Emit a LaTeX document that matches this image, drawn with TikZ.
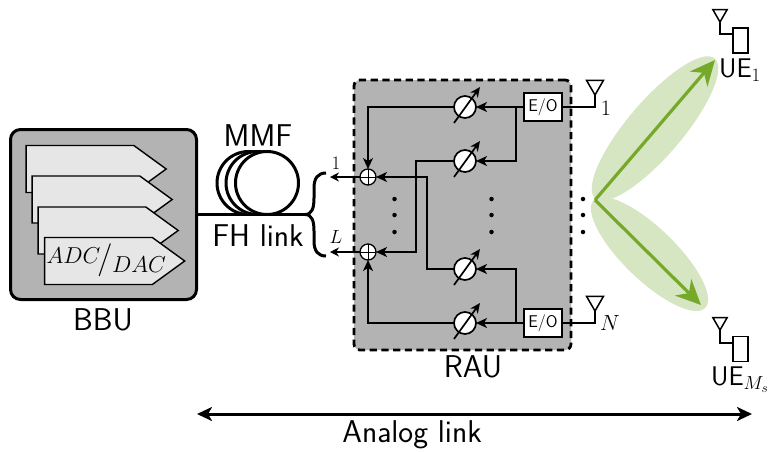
\RequirePackage{fix-cm}
\documentclass[tikz,border=0pt]{standalone}
\usepackage{amsmath}
\usetikzlibrary{positioning,calc}
\usetikzlibrary{arrows.meta}
\usetikzlibrary{shapes.geometric,shapes.symbols}
\definecolor{boxgray}{HTML}{B3B3B3}
\definecolor{sheetgray}{HTML}{E6E6E6}
\definecolor{beamgreen}{HTML}{D6E6C3}
\definecolor{raygreen}{HTML}{76A92A}
\newcommand{\bigsf}{\fontsize{31.5}{31.5}\selectfont\sffamily}
\begin{document}
\begin{tikzpicture}[x=1pt,y=-1pt,
                every node/.style={inner sep=0pt, outer sep=0pt},
                wire/.style={line width=1.7pt},
                tip/.style={wire, -{Stealth[length=11pt,width=10pt,inset=3pt]}},
                sheet/.style={draw, line width=1.4pt, fill=sheetgray, signal, signal to=east, signal from=nowhere, signal pointer angle=72, minimum width=140pt, minimum height=47pt},
                phase/.style={circle, draw, line width=1.7pt, fill=white, minimum size=22pt},
                adder/.style={circle, draw, line width=1.3pt, fill=white, minimum size=16pt,
                    path picture={\draw[line width=1pt] (path picture bounding box.north) -- (path picture bounding box.south) (path picture bounding box.west) -- (path picture bounding box.east);}},
                eobox/.style={draw, line width=1.3pt, fill=white, minimum width=38pt, minimum height=28pt, font=\fontsize{17}{17}\selectfont\sffamily},
                antenna/.style={regular polygon, regular polygon sides=3, shape border rotate=180, draw, line width=1.5pt, minimum size=#1},
                handset/.style={draw, line width=1.5pt, minimum width=15pt, minimum height=25pt},
                beam/.style={ellipse, fill=beamgreen},
                ray/.style={line width=3.2pt, raygreen, -{Stealth[length=25pt,width=23pt,inset=8pt]}},
                tag/.style={font=\bigsf},
                dot/.style={circle, fill=black, minimum size=4.5pt}]
    \useasboundingbox (0,0) rectangle (768,451);

    % BBU
    \node[draw, rounded corners=10pt, line width=3pt, fill=boxgray, minimum width=186pt, minimum height=170pt] (bbu) at (103.5,214.5) {};
    \node[tag] (bbulabel) at (103,320) {BBU};
    \node[sheet] (sheet1) at (80,169) {};
    \node[sheet] (sheet2) at (86,199.5) {};
    \node[sheet] (sheet3) at (92,230.5) {};
    \node[sheet] (sheet4) at (98.5,261) {};
    \node (adc) at (73.5,256) {\fontsize{23}{23}\selectfont$ADC$};
    \node (slash) at (105,260) {\fontsize{33}{33}\selectfont\sffamily /};
    \node (dac) at (139,265) {\fontsize{23}{23}\selectfont$DAC$};

    % fibre coil
    \foreach \name/\cx in {coilA/248.5,coilB/257.5,coilC/267}
        \node[circle, draw, line width=3pt, fill=white, minimum size=63pt] (\name) at (\cx,183) {};
    \node[tag] (mmf) at (258,136) {MMF};
    \node[tag] (fh) at (258,236) {FH link};
    \coordinate (split) at (305,214.5);
    \coordinate (upper) at (326,173);
    \coordinate (lower) at (326,256);
    \draw[line width=3pt] (bbu.east |- split) -- (split);
    \draw[line width=3pt] (split) .. controls (312,214.5) and (314,208) .. (314,198) -- (314,188) .. controls (314,178) and (318,173) .. (upper);
    \draw[line width=3pt] (split) .. controls (312,214.5) and (314,221) .. (314,231) -- (314,241) .. controls (314,251) and (318,256) .. (lower);

    % RAU
    \node[draw, dash pattern=on 7.2pt off 4.5pt, rounded corners=6pt, line width=2.8pt, fill=boxgray, minimum width=217pt, minimum height=270pt] (rau) at (462.5,215) {};
    \node[tag] (raulabel) at (473,367) {RAU};
    \node[eobox] (eo1) at (543,107) {E/O};
    \node[eobox] (eo2) at (543,323) {E/O};
    \foreach \name/\py in {ps1/107,ps2/161,ps3/269,ps4/323}
        \node[phase] (\name) at (465,\py) {};
    \foreach \name in {ps1,ps2,ps3,ps4}
        \draw[wire, -{Stealth[length=10pt,width=9pt,inset=3pt]}] ($(\name)+(-11,16)$) -- ($(\name)+(15,-20)$);
    \node[adder] (sum1) at (368,177) {};
    \node[adder] (sum2) at (368,252) {};

    \coordinate (trunk1) at (516,107);
    \coordinate (trunk2) at (516,323);
    \draw[tip] (eo1.west) -- (ps1.east);
    \draw[tip] (trunk1) |- (ps2.east);
    \draw[tip] (eo2.west) -- (ps4.east);
    \draw[tip] (trunk2) |- (ps3.east);
    \draw[tip] (ps1.west) -| (sum1.north);
    \draw[tip] (ps4.west) -| (sum2.south);
    \draw[tip] (ps2.west) -| (416,252) -- (sum2.east);
    \draw[tip] (ps3.west) -| (427,177) -- (sum1.east);
    \draw[wire, -{Stealth[length=9pt,width=9pt,inset=3pt]}] (sum1.west) -- (330,177);
    \draw[wire, -{Stealth[length=9pt,width=9pt,inset=3pt]}] (sum2.west) -- (330,252);
    \node (one) at (336,163) {\fontsize{19}{19}\selectfont$1$};
    \node (ell) at (336,237) {\fontsize{19}{19}\selectfont$L$};

    \foreach \dotx in {394.5,491.5,583}
        \foreach \doty in {199,215,232}
            \node[dot] at (\dotx,\doty) {};

    % antennas on the RAU
    \node[antenna=19.6pt, anchor=corner 1] (ant1) at (595,95) {};
    \node[antenna=19.6pt, anchor=corner 1] (antN) at (595,311) {};
    \draw[wire] (eo1.east) -| (ant1.corner 1);
    \draw[wire] (eo2.east) -| (antN.corner 1);
    \node (ant1label) at (606,108) {\fontsize{22}{22}\selectfont$1$};
    \node (antNlabel) at (610,323) {\fontsize{22}{22}\selectfont$N$};

    % beams
    \node[beam, minimum width=184pt, minimum height=55pt, rotate=49.5] (beam1) at (655,128.5) {};
    \node[beam, minimum width=155pt, minimum height=52pt, rotate=-44] (beam2) at (649.5,254) {};
    \coordinate (apex) at (595,200);
    \coordinate (ray1end) at (715,60);
    \coordinate (ray2end) at (701,305);
    \draw[ray] (apex) -- (ray1end);
    \draw[ray] (apex) -- (ray2end);

    % users
    \node[antenna=16.5pt, anchor=corner 1] (ue1ant) at (720,22) {};
    \node[handset] (ue1) at (740.5,40.5) {};
    \node[antenna=16.5pt, anchor=corner 1] (ue2ant) at (720,330) {};
    \node[handset] (ue2) at (740.5,349) {};
    \draw[wire] (ue1ant.corner 1) |- (ue1.west |- 0,34);
    \draw[wire] (ue2ant.corner 1) |- (ue2.west |- 0,343);
    \node (ue1label) at (740,70) {\fontsize{27}{27}\selectfont\sffamily UE$_1$};
    \node (ue2label) at (740,380) {\fontsize{27}{27}\selectfont\sffamily UE$_{M_s}$};

    % analog link
    \coordinate (linkL) at (197,414);
    \coordinate (linkR) at (752,414);
    \draw[line width=3pt, {Stealth[length=15pt,width=14pt,inset=4pt]}-{Stealth[length=15pt,width=14pt,inset=4pt]}] (linkL) -- (linkR);
    \node[tag] (analog) at (412,435) {Analog link};
\end{tikzpicture}
\end{document}
